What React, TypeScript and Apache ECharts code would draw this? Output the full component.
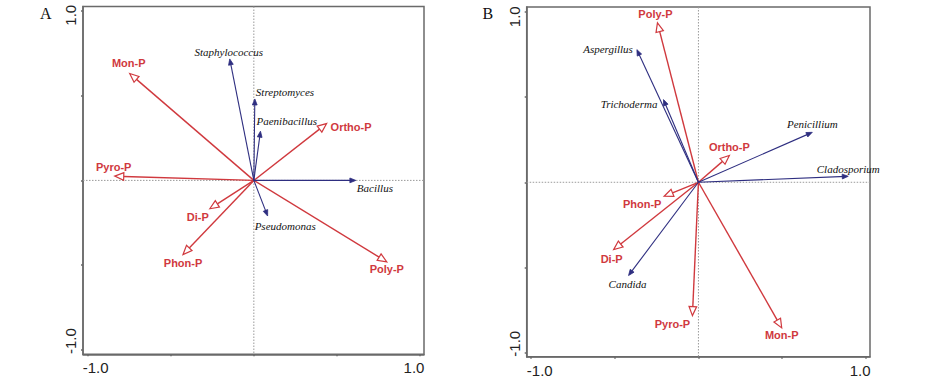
import React, { useEffect, useRef } from "react";
import * as echarts from "echarts";

// ---------- data ----------
const panelLetters = ["A", "B"];
const tickValues = [-1, -0.5, 0, 0.5, 1];
const labelValues = [-1, 1];
const tickLabels = ["-1.0", "1.0"];

// Panel A (bacteria)
const envNamesA = ["Mon-P", "Pyro-P", "Ortho-P", "Di-P", "Phon-P", "Poly-P"];
const envXA = [-0.747, -0.837, 0.438, -0.265, -0.426, 0.8];
const envYA = [0.63, 0.025, 0.335, -0.167, -0.437, -0.48];
const spNamesA = ["Staphylococcus", "Streptomyces", "Paenibacillus", "Bacillus", "Pseudomonas"];
const spXA = [-0.145, 0.006, 0.04, 0.614, 0.083];
const spYA = [0.716, 0.48, 0.29, 0.0, -0.21];

// Panel B (fungi)
const envNamesB = ["Poly-P", "Ortho-P", "Phon-P", "Di-P", "Pyro-P", "Mon-P"];
const envXB = [-0.245, 0.185, -0.205, -0.507, -0.036, 0.498];
const envYB = [0.935, 0.157, -0.082, -0.395, -0.782, -0.854];
const spNamesB = ["Aspergillus", "Trichoderma", "Penicillium", "Cladosporium", "Candida"];
const spXB = [-0.368, -0.209, 0.681, 0.896, -0.418];
const spYB = [0.778, 0.485, 0.293, 0.035, -0.547];

// ---------- label placement (pixels relative to arrow tip) ----------
type Lp = [number, number, "left" | "center" | "right"];
const envLabelPosA: Lp[] = [[-1, -11, "center"], [-1, -9, "center"], [4, 3, "left"], [-12, 8, "center"], [0, 8, "center"], [0, 7, "center"]];
const spLabelPosA: Lp[] = [[-1, -7, "center"], [1, -7, "left"], [-4, -10, "left"], [1, 8, "left"], [-13, 10, "left"]];
const envLabelPosB: Lp[] = [[-2, -9, "center"], [0, -9, "center"], [-22, 8, "center"], [-2, 9, "center"], [-20, 8, "center"], [0, 7, "center"]];
const spLabelPosB: Lp[] = [[-4, -1, "right"], [-6, 4, "right"], [0, -8, "center"], [0, -7, "center"], [-1, 8, "center"]];

const RED = "#d0393e";
const BLUE = "#2e2e80";
const FRAME = "#6a6a6a";

function arrowSeries(
  gridIdx: number,
  xs: number[],
  ys: number[],
  names: string[],
  pos: Lp[],
  kind: "env" | "sp"
) {
  const isEnv = kind === "env";
  return {
    type: "custom",
    xAxisIndex: gridIdx,
    yAxisIndex: gridIdx,
    clip: false,
    silent: true,
    data: xs.map((x, i) => [x, ys[i]]),
    renderItem: (params: any, api: any) => {
      const i = params.dataIndex;
      const o = api.coord([0, 0]);
      const t = api.coord([api.value(0), api.value(1)]);
      const dx = t[0] - o[0];
      const dy = t[1] - o[1];
      const len = Math.sqrt(dx * dx + dy * dy) || 1;
      const ux = dx / len;
      const uy = dy / len;
      const hl = isEnv ? 9 : 6;
      const hw = isEnv ? 3.8 : 2.4;
      const bx = t[0] - ux * hl;
      const by = t[1] - uy * hl;
      const px = -uy;
      const py = ux;
      const p = pos[i];
      const color = isEnv ? RED : BLUE;
      return {
        type: "group",
        children: [
          {
            type: "line",
            shape: { x1: o[0], y1: o[1], x2: isEnv ? bx : t[0] - ux * 2, y2: isEnv ? by : t[1] - uy * 2 },
            style: { stroke: color, lineWidth: isEnv ? 1.4 : 1.1 },
          },
          {
            type: "polygon",
            shape: {
              points: [
                [t[0], t[1]],
                [bx + px * hw, by + py * hw],
                [bx - px * hw, by - py * hw],
              ],
            },
            style: isEnv
              ? { fill: "#ffffff", stroke: color, lineWidth: 1.2 }
              : { fill: color, stroke: color, lineWidth: 0.8 },
          },
          {
            type: "text",
            x: t[0] + p[0],
            y: t[1] + p[1],
            style: {
              text: names[i],
              fill: isEnv ? RED : "#111111",
              fontSize: 11,
              fontFamily: isEnv ? "'Liberation Sans', Arial, sans-serif" : "'Liberation Serif', 'Times New Roman', serif",
              fontWeight: isEnv ? "bold" : "normal",
              fontStyle: isEnv ? "normal" : "italic",
              align: p[2],
              verticalAlign: "middle",
            },
          },
        ],
      };
    },
  };
}

function zeroLines(gridIdx: number) {
  return {
    type: "custom",
    xAxisIndex: gridIdx,
    yAxisIndex: gridIdx,
    silent: true,
    data: [[0, 0]],
    z: 1,
    renderItem: (params: any, api: any) => {
      const cs = params.coordSys;
      const o = api.coord([0, 0]);
      const st = { stroke: "#9a9a9a", lineWidth: 1, lineDash: [1.5, 1.5] };
      return {
        type: "group",
        children: [
          { type: "line", shape: { x1: o[0], y1: cs.y, x2: o[0], y2: cs.y + cs.height }, style: st },
          { type: "line", shape: { x1: cs.x, y1: o[1], x2: cs.x + cs.width, y2: o[1] }, style: st },
        ],
      };
    },
  };
}

const axisFont = {
  fontFamily: "'Liberation Sans', Arial, sans-serif",
  fontSize: 15,
  color: "#222222",
};

function fmt(v: number) {
  return tickLabels[labelValues.indexOf(v)] ?? String(v);
}

function xAxisFor(gridIdx: number, min: number, max: number, padL: number, padR: number) {
  return {
    type: "value",
    gridIndex: gridIdx,
    min,
    max,
    axisLine: { show: true, onZero: false, lineStyle: { color: FRAME, width: 1.5 } },
    axisTick: { show: true, customValues: tickValues, length: 2, lineStyle: { color: FRAME, width: 1.5 } },
    axisLabel: {
      show: true,
      customValues: labelValues,
      margin: 6,
      formatter: (v: number) => (v < 0 ? `{l|${fmt(v)}}` : `{r|${fmt(v)}}`),
      rich: {
        l: { ...axisFont, padding: [0, 0, 0, padL] },
        r: { ...axisFont, padding: [0, padR, 0, 0] },
      },
    },
    splitLine: { show: false },
  };
}

function yAxisFor(gridIdx: number, min: number, max: number, padLow: number, padHigh: number) {
  return {
    type: "value",
    gridIndex: gridIdx,
    min,
    max,
    axisLine: { show: true, onZero: false, lineStyle: { color: FRAME, width: 1.5 } },
    axisTick: { show: true, customValues: tickValues, length: 2, lineStyle: { color: FRAME, width: 1.5 } },
    axisLabel: {
      show: true,
      customValues: labelValues,
      rotate: 90,
      margin: 5,
      formatter: (v: number) => (v < 0 ? `{l|${fmt(v)}}` : `{r|${fmt(v)}}`),
      rich: {
        l: { ...axisFont, padding: [0, 0, 0, padLow] },
        r: { ...axisFont, padding: [0, padHigh, 0, 0] },
      },
    },
    splitLine: { show: false },
  };
}

export default function App() {
  const ref = useRef<HTMLDivElement>(null);
  useEffect(() => {
    if (!ref.current) return;
    const chart = echarts.init(ref.current, undefined, { renderer: "svg" });
    chart.setOption({
      animation: false,
      backgroundColor: "#ffffff",
      grid: [
        { left: 83, top: 6.5, width: 341, height: 347.8, show: true, borderColor: FRAME, borderWidth: 1.5 },
        { left: 526.7, top: 7, width: 343.3, height: 349.7, show: true, borderColor: FRAME, borderWidth: 1.5 },
      ],
      xAxis: [xAxisFor(0, -1.028, 1.024, 16, 12), xAxisFor(1, -1.027, 1.026, 17, 11)],
      yAxis: [yAxisFor(0, -1.025, 1.025, 18, 9), yAxisFor(1, -1.023, 1.028, 18, 10)],
      graphic: [
        {
          type: "text",
          left: 40,
          top: 5,
          style: { text: panelLetters[0], fontSize: 16, fontFamily: "'Liberation Serif', 'Times New Roman', serif", fill: "#111" },
        },
        {
          type: "text",
          left: 482.5,
          top: 5,
          style: { text: panelLetters[1], fontSize: 16, fontFamily: "'Liberation Serif', 'Times New Roman', serif", fill: "#111" },
        },
      ],
      series: [
        zeroLines(0),
        zeroLines(1),
        arrowSeries(0, envXA, envYA, envNamesA, envLabelPosA, "env"),
        arrowSeries(0, spXA, spYA, spNamesA, spLabelPosA, "sp"),
        arrowSeries(1, envXB, envYB, envNamesB, envLabelPosB, "env"),
        arrowSeries(1, spXB, spYB, spNamesB, spLabelPosB, "sp"),
      ],
    });
    return () => chart.dispose();
  }, []);
  return (
    <div
      ref={ref}
      style={{ position: "fixed", left: 0, top: 0, width: 926, height: 392, background: "#fff" }}
    />
  );
}
